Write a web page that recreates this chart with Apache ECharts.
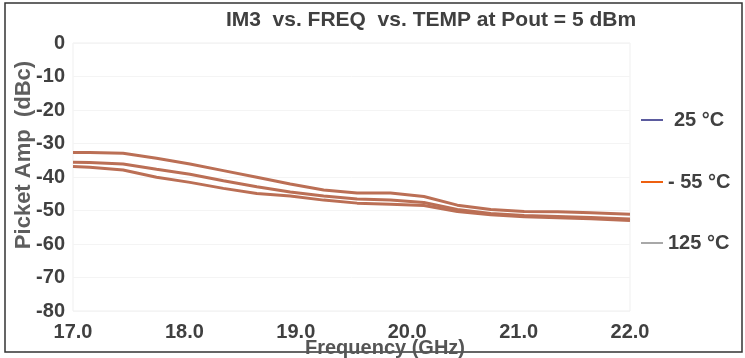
<!DOCTYPE html>
<html><head><meta charset="utf-8">
<script src="https://cdn.jsdelivr.net/npm/echarts@6/dist/echarts.min.js"></script>
<style>html,body{margin:0;padding:0;background:#fff}#c{width:745px;height:358px}</style>
</head><body><div id="c"></div>
<script>
const freq = [17.0, 17.15, 17.45, 17.75, 18.05, 18.35, 18.65, 18.95, 19.25, 19.55, 19.85, 20.15, 20.45, 20.75, 21.05, 21.35, 21.65, 22.0];
const im3_125 = [-32.7, -32.7, -32.9, -34.4, -36.1, -38.1, -40.1, -42.1, -43.9, -44.8, -44.8, -45.8, -48.4, -49.7, -50.3, -50.4, -50.7, -51.1];
const im3_25  = [-35.6, -35.7, -36.1, -37.7, -39.2, -41.1, -42.9, -44.5, -45.7, -46.6, -46.9, -47.6, -49.7, -50.9, -51.5, -51.8, -52.1, -52.5];
const im3_m55 = [-36.9, -37.1, -37.9, -40.1, -41.6, -43.4, -44.9, -45.7, -46.9, -47.8, -48.1, -48.5, -50.3, -51.3, -51.9, -52.2, -52.5, -53.0];
const seriesNames = ['25 °C', '- 55 °C', '125 °C'];
const legendColors = ['#5b5b9e', '#ee6010', '#a8a8a8'];
const yTicks = [0, -10, -20, -30, -40, -50, -60, -70, -80];

const FONT = "'Liberation Sans', Arial, sans-serif";
const lineColor = '#bb6f55';
const chart = echarts.init(document.getElementById('c'));
const pairs = a => freq.map((f, i) => [f, a[i]]);
const seriesData = [im3_25, im3_m55, im3_125];
const legendTops = [105, 167, 228];
const legendTextPad = [6, 0, 0];
chart.setOption({
  animation: false,
  backgroundColor: '#fff',
  textStyle: { fontFamily: FONT },
  legend: seriesNames.map((n, i) => ({
    orient: 'vertical', left: 636, top: legendTops[i],
    itemWidth: 22, itemHeight: 2, itemGap: 8, icon: 'rect',
    data: [{ name: n, itemStyle: { color: legendColors[i] } }],
    textStyle: { fontFamily: FONT, fontSize: 20, fontWeight: 'bold', color: '#404040', padding: [0, 0, 0, legendTextPad[i]] }
  })),
  grid: { left: 73, right: 115, top: 43, bottom: 47, show: true, borderColor: '#efefef', borderWidth: 1 },
  xAxis: {
    type: 'value', min: 17, max: 22, interval: 1,
    axisLine: { show: false }, axisTick: { show: false }, splitLine: { show: false },
    axisLabel: { formatter: v => v.toFixed(1), margin: 11, fontFamily: FONT, fontSize: 20, fontWeight: 'bold', color: '#404040' }
  },
  yAxis: {
    type: 'value', min: -80, max: 0, interval: 10,
    axisLine: { show: false }, axisTick: { show: false },
    splitLine: { lineStyle: { color: '#f4f4f4' } },
    axisLabel: { margin: 8, fontFamily: FONT, fontSize: 20, fontWeight: 'bold', color: '#404040',
      formatter: v => yTicks.includes(v) ? String(v) : '' }
  },
  series: seriesNames.map((n, i) => ({
    name: n, type: 'line', data: pairs(seriesData[i]), showSymbol: false, symbol: 'none',
    itemStyle: { color: legendColors[i] },
    lineStyle: { color: lineColor, width: 3 }
  })),
  graphic: [
    { type: 'rect', shape: { x: 5, y: 3, width: 737, height: 349 }, style: { fill: 'none', stroke: '#333', lineWidth: 1.5 }, z: 100 },
    { type: 'text', x: 431, y: 20, style: { text: 'IM3  vs. FREQ  vs. TEMP at Pout = 5 dBm', font: "bold 21px " + FONT, fill: '#404040', align: 'center', verticalAlign: 'middle' }, z: 101 },
    { type: 'text', x: 385, y: 348, style: { text: 'Frequency (GHz)', font: "bold 20px " + FONT, fill: '#555555', align: 'center', verticalAlign: 'middle' }, z: 101 },
    { type: 'text', x: 24, y: 155, rotation: Math.PI / 2, style: { text: 'Picket Amp  (dBc)', font: "bold 22px " + FONT, fill: '#5e5e5e', align: 'center', verticalAlign: 'middle' }, z: 101 }
  ]
});
</script></body></html>
